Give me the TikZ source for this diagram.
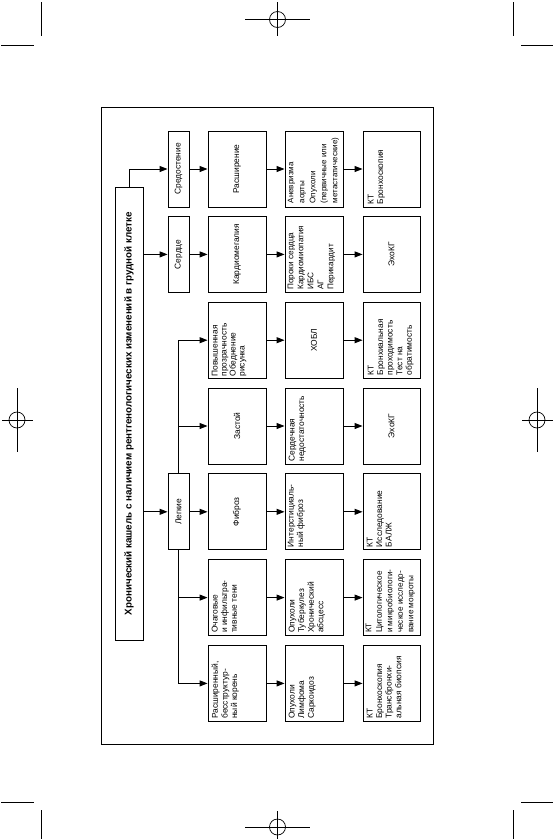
\documentclass[tikz,border=0pt]{standalone}
\usepackage{fontspec}
\setmainfont{Liberation Sans}
\usetikzlibrary{arrows.meta}
\begin{document}
\begin{tikzpicture}[x=1pt,y=-1pt,
  box/.style={draw, line width=0.9pt, inner sep=0pt, minimum width=58pt, minimum height=76pt},
  nbox/.style={draw, line width=0.9pt, inner sep=0pt, minimum width=21pt, minimum height=76pt},
  ctext/.style={rotate=90, inner sep=0pt, align=center, font=\fontsize{8.4}{9.6}\selectfont},
  ltext/.style={rotate=90, inner sep=0pt, align=left, anchor=north west, font=\fontsize{8.4}{9.6}\selectfont},
  arr/.style={line width=0.9pt, -{Triangle[length=8pt,width=6pt]}},
  ln/.style={line width=0.9pt},
  regmark/.style={line width=0.7pt}
]
\useasboundingbox (0,0) rectangle (555,839);

% registration / crop marks
\draw[regmark] (41.4,2) -- (41.4,36);
\draw[regmark] (1,45) -- (34,45);
\draw[regmark] (513,2) -- (513,36);
\draw[regmark] (521,45) -- (553,45);
\draw[regmark] (41.4,810) -- (41.4,839);
\draw[regmark] (1,802) -- (34,802);
\draw[regmark] (513,810) -- (513,839);
\draw[regmark] (521,802) -- (553,802);
\draw[regmark] (277.5,19.5) circle (8);
\draw[regmark] (245,19.5) -- (310,19.5);
\draw[regmark] (277.5,2) -- (277.5,36);
\draw[regmark] (277.5,827) circle (8);
\draw[regmark] (245,827) -- (310,827);
\draw[regmark] (277.5,811) -- (277.5,839);
\draw[regmark] (17,420) circle (8);
\draw[regmark] (17,388) -- (17,452);
\draw[regmark] (2,420) -- (33,420);
\draw[regmark] (537,420) circle (8);
\draw[regmark] (537,388) -- (537,452);
\draw[regmark] (522,420) -- (553,420);

% outer frame
\draw[ln] (101.5,107) rectangle (433.5,744);

% title
\node[draw, line width=0.9pt, inner sep=0pt, minimum width=28pt, minimum height=453pt] (title) at (129,413.5) {};
\node[rotate=90, inner sep=0pt, font=\fontsize{9.8}{11}\selectfont\bfseries] (titletxt) at (title.center)
  {Хронический кашель с наличием рентгенологических изменений в грудной клетке};

% level 1
\node[nbox] (med) at (178.5,169) {};
\node[ctext] (medtxt) at (med.center) {Средостение};
\node[nbox] (heart) at (178.5,254.4) {};
\node[ctext] (hearttxt) at (heart.center) {Сердце};
\node[nbox] (lung) at (178.5,511.8) {};
\node[ctext] (lungtxt) at (lung.center) {Легкие};

% column 2
\node[box] (c2r1) at (237,169) {};
\node[box] (c2r2) at (237,254.4) {};
\node[box] (c2r3) at (237,340.2) {};
\node[box] (c2r4) at (237,426) {};
\node[box] (c2r5) at (237,511.8) {};
\node[box] (c2r6) at (237,597.6) {};
\node[box] (c2r7) at (237,683.4) {};
% column 3
\node[box] (c3r1) at (314,169) {};
\node[box] (c3r2) at (314,254.4) {};
\node[box] (c3r3) at (314,340.2) {};
\node[box] (c3r4) at (314,426) {};
\node[box] (c3r5) at (314,511.8) {};
\node[box] (c3r6) at (314,597.6) {};
\node[box] (c3r7) at (314,683.4) {};
% column 4
\node[box, minimum width=57pt] (c4r1) at (391.5,169) {};
\node[box, minimum width=57pt] (c4r2) at (391.5,254.4) {};
\node[box, minimum width=57pt] (c4r3) at (391.5,340.2) {};
\node[box, minimum width=57pt] (c4r4) at (391.5,426) {};
\node[box, minimum width=57pt] (c4r5) at (391.5,511.8) {};
\node[box, minimum width=57pt] (c4r6) at (391.5,597.6) {};
\node[box, minimum width=57pt] (c4r7) at (391.5,683.4) {};

% texts column 2
\node[ctext] (t21) at (c2r1.center) {Расширение};
\node[ctext] (t22) at (c2r2.center) {Кардиомегалия};
\node[ltext, font=\fontsize{8.4}{9}\selectfont] (t23) at ([shift={(4,-2)}]c2r3.south west) {Повышенная\\прозрачность\\Обеднение\\рисунка};
\node[ctext] (t24) at (c2r4.center) {Застой};
\node[ctext] (t25) at (c2r5.center) {Фиброз};
\node[ltext] (t26) at ([shift={(4,-3)}]c2r6.south west) {Очаговые\\и инфильтра-\\тивные тени};
\node[ltext] (t27) at ([shift={(4,-3)}]c2r7.south west) {Расширенный,\\бесструктур-\\ный корень};
% texts column 3
\node[ltext, font=\fontsize{8}{11}\selectfont] (t31) at ([shift={(3,-4)}]c3r1.south west) {Аневризма\\аорты\\Опухоли\\(первичные или\\метастатические)};
\node[ltext, font=\fontsize{8.2}{10}\selectfont] (t32) at ([shift={(3,-3)}]c3r2.south west) {Пороки сердца\\Кардиомиопатия\\ИБС\\АГ\\Перикардит};
\node[ctext] (t33) at (c3r3.center) {ХОБЛ};
\node[ltext] (t34) at ([shift={(4,-3)}]c3r4.south west) {Сердечная\\недостаточность};
\node[ltext] (t35) at ([shift={(3,-3)}]c3r5.south west) {Интерстициаль-\\ный фиброз};
\node[ltext] (t36) at ([shift={(4,-3)}]c3r6.south west) {Опухоли\\Туберкулез\\Хронический\\абсцесс};
\node[ltext] (t37) at ([shift={(4,-3)}]c3r7.south west) {Опухоли\\Лимфома\\Саркоидоз};
% texts column 4
\node[ltext] (t41) at ([shift={(5,-3)}]c4r1.south west) {КТ\\Бронхоскопия};
\node[ctext] (t42) at (c4r2.center) {ЭхоКГ};
\node[ltext] (t43) at ([shift={(5,-3)}]c4r3.south west) {КТ\\Бронхиальная\\проходимость\\Тест на\\обратимость};
\node[ctext] (t44) at (c4r4.center) {ЭхоКГ};
\node[ltext] (t45) at ([shift={(4,-3)}]c4r5.south west) {КТ\\Исследование\\БАЛЖ};
\node[ltext, font=\fontsize{8.2}{10.5}\selectfont] (t46) at ([shift={(3,-3)}]c4r6.south west) {КТ\\Цитологическое\\и микробиологи-\\ческое исследо-\\вание мокроты};
\node[ltext] (t47) at ([shift={(4,-3)}]c4r7.south west) {КТ\\Бронхоскопия\\Трансбронхи-\\альная биопсия};

% connectors from title
\draw[arr] (title.north) |- (med.west);
\draw[arr] (title.east |- heart.west) -- (heart.west);
\draw[arr] (title.east |- lung.west) -- (lung.west);

% level 1 -> column 2
\draw[arr] (med.east) -- (c2r1.west);
\draw[arr] (heart.east) -- (c2r2.west);
\draw[arr] (lung.east) -- (c2r5.west);
\draw[arr] (lung.north) |- (c2r3.west);
\draw[arr] (lung.north |- c2r4.west) -- (c2r4.west);
\draw[arr] (lung.south) |- (c2r7.west);
\draw[arr] (lung.south |- c2r6.west) -- (c2r6.west);

% column 2 -> 3 -> 4
\foreach \r in {1,...,7}{
  \draw[arr] (c2r\r.east) -- (c3r\r.west);
  \draw[arr] (c3r\r.east) -- (c4r\r.west);
}
\end{tikzpicture}
\end{document}
